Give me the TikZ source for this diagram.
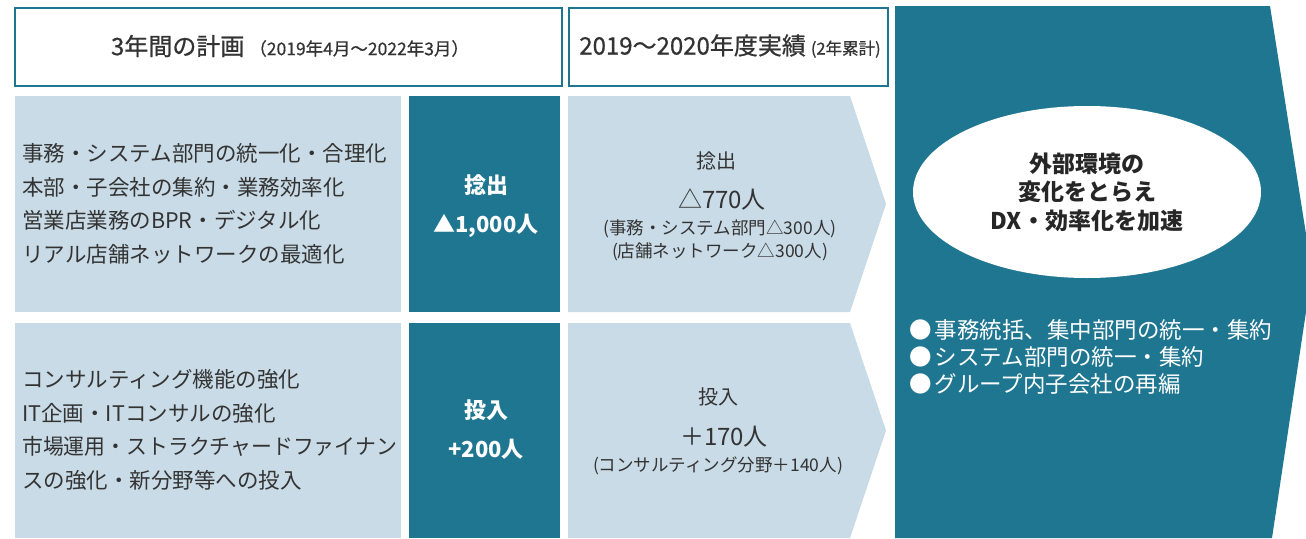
\documentclass[tikz,border=0pt]{standalone}
\usepackage{fontspec}
\setmainfont{Noto Sans CJK JP}
\newfontfamily\hdrfont{Noto Sans CJK JP}[FakeBold=0.7]
\usetikzlibrary{shapes.geometric}
\definecolor{tealA}{HTML}{1F7691}
\definecolor{lightA}{HTML}{C9DBE6}
\definecolor{txtA}{HTML}{333333}
\newcommand{\fsz}[2]{\fontsize{#1}{#2}\selectfont}
\tikzset{
  hdrbox/.style={draw=tealA, line width=1.6pt, fill=white, anchor=north west, inner sep=0pt},
  lightbox/.style={fill=lightA, anchor=north west, inner sep=0pt},
  darkbox/.style={fill=tealA, anchor=north west, inner sep=0pt},
  lefttext/.style={anchor=west, align=left, text=txtA, font=\fsz{21.5}{33.5}, inner sep=0pt},
  darktext/.style={align=center, text=white, font=\bfseries\fsz{22}{39}, inner sep=0pt},
  chevtext/.style={align=center, text=txtA, inner sep=0pt},
}
\begin{document}
\begin{tikzpicture}[x=1pt,y=-1pt]
\useasboundingbox (0,0) rectangle (1306,538);
% headers
\node[hdrbox, minimum width=547pt, minimum height=78pt] (h1) at (14,7) {};
\node[hdrbox, minimum width=319pt, minimum height=78pt] (h2) at (568,7) {};
\node[text=txtA, inner sep=0pt, font=\hdrfont] (h1t) at (290,46) {{\fsz{24}{24}3年間の計画}\hspace{5pt}{\fsz{17.5}{17.5}（2019年4月〜2022年3月）}};
\node[text=txtA, inner sep=0pt, font=\hdrfont] (h2t) at (730,46) {{\fsz{24}{24}2019〜2020年度実績}\hspace{5pt}{\fsz{16.5}{16.5}(2年累計)}};
% big right shape
\fill[tealA] (895,6) -- (1270,6) -- (1312,272) -- (1272,538) -- (895,538) -- cycle;
\node[ellipse, fill=white, minimum width=348pt, minimum height=172pt, inner sep=0pt] (ell) at (1087,192) {};
\node[align=center, text=black!85, font=\bfseries\fsz{23}{28.5}, inner sep=0pt] (ellt) at (ell.center) {外部環境の\\変化をとらえ\\DX・効率化を加速};
\node[anchor=west, align=left, text=white, font=\fsz{22.5}{27}, inner sep=0pt] (bul) at (909,357) {●\hspace{3pt}事務統括、集中部門の統一・集約\\●\hspace{3pt}システム部門の統一・集約\\●\hspace{3pt}グループ内子会社の再編};
% row 1
\node[lightbox, minimum width=386pt, minimum height=216pt] (l1) at (15,96) {};
\node[darkbox, minimum width=151pt, minimum height=216pt] (d1) at (409,96) {};
\fill[lightA] (568,96) -- (850,96) -- (886,204) -- (850,312) -- (568,312) -- cycle;
\node[lefttext] (l1t) at (22,204) {事務・システム部門の統一化・合理化\\本部・子会社の集約・業務効率化\\営業店業務のBPR・デジタル化\\リアル店舗ネットワークの最適化};
\node[darktext] (d1t) at (486,206) {捻出\\▲1,000人};
\node[chevtext, font=\fsz{20}{20}] (c1a) at (716,161) {捻出};
\node[chevtext, font=\fsz{24}{24}] (c1b) at (722,199) {△770人};
\node[chevtext, font=\fsz{17.5}{23}] (c1c) at (720,240) {(事務・システム部門△300人)\\(店舗ネットワーク△300人)};
% row 2
\node[lightbox, minimum width=386pt, minimum height=215pt] (l2) at (15,323) {};
\node[darkbox, minimum width=151pt, minimum height=215pt] (d2) at (409,323) {};
\fill[lightA] (568,323) -- (850,323) -- (886,430.5) -- (850,538) -- (568,538) -- cycle;
\node[lefttext] (l2t) at (22,430) {コンサルティング機能の強化\\IT企画・ITコンサルの強化\\\scalebox{0.97}[1]{市場運用・ストラクチャードファイナン}\\スの強化・新分野等への投入};
\node[darktext] (d2t) at (486,430) {投入\\+200人};
\node[chevtext, font=\fsz{20}{20}] (c2a) at (718,397) {投入};
\node[chevtext, font=\fsz{24}{24}] (c2b) at (724,437) {＋170人};
\node[chevtext, font=\fsz{17.5}{23}] (c2c) at (718,466) {(コンサルティング分野＋140人)};
\end{tikzpicture}
\end{document}
